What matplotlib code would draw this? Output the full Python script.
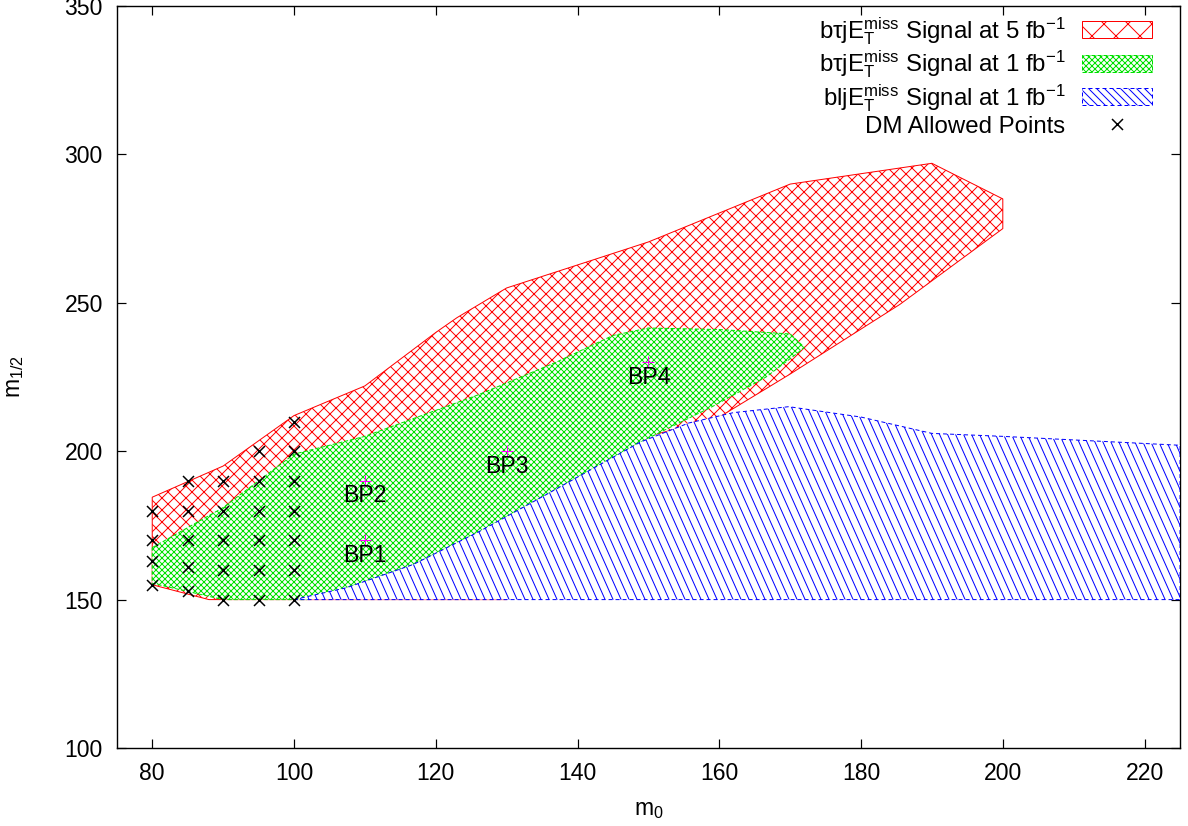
import numpy as np
import matplotlib
matplotlib.use("Agg")
import matplotlib.pyplot as plt
from matplotlib.patches import Polygon, Patch
from matplotlib.lines import Line2D
from matplotlib.collections import LineCollection
from matplotlib.transforms import IdentityTransform

plt.rcParams['font.family'] = ['Liberation Sans', 'DejaVu Sans']
plt.rcParams['mathtext.fontset'] = 'custom'
plt.rcParams['mathtext.rm'] = 'Liberation Sans'
plt.rcParams['mathtext.it'] = 'Liberation Sans'
plt.rcParams['mathtext.default'] = 'regular'
plt.rcParams['hatch.linewidth'] = 1.0

# ---------------- data ----------------
# btau j ET miss, 5 fb^-1 region (m0, m1/2)
red_m0 = [80, 88, 130, 150, 160, 170, 185.5, 200, 200, 190, 170, 150, 130, 123, 120, 110, 100, 90, 80]
red_m12 = [155, 150, 150, 205, 211.5, 226, 249.5, 275, 285, 297, 290, 270.5, 255, 245, 240, 222, 212, 195, 184.5]

# btau j ET miss, 1 fb^-1 region
green_m0 = [80, 90, 100, 110, 118, 126, 137, 145, 150, 160, 170, 172, 171, 166.6, 159, 154.3,
            148.8, 135.6, 126.2, 116.8, 107.4, 101.8, 90, 80]
green_m12 = [167.5, 181, 199, 205, 212, 219, 230, 239, 241.5, 241, 239.5, 235, 233, 225, 215, 209.5,
             203, 185.4, 173, 161.8, 154, 150, 150, 155.5]

# b l j ET miss, 1 fb^-1 region
blue_m0 = [100, 107.4, 116.8, 126.2, 135.6, 148.8, 155.7, 162, 169.8, 180, 190, 200, 225, 225]
blue_m12 = [150, 154, 161.8, 173, 185.4, 203, 209.5, 213, 215, 211.5, 206, 205, 202, 150]

# DM allowed points
dm_m0 = [80, 80, 80, 80,
         85, 85, 85, 85, 85,
         90, 90, 90, 90, 90,
         95, 95, 95, 95, 95, 95,
         100, 100, 100, 100, 100, 100, 100]
dm_m12 = [155, 163, 170, 180,
          153, 161, 170, 180, 190,
          150, 160, 170, 180, 190,
          150, 160, 170, 180, 190, 200,
          150, 160, 170, 180, 190, 200, 210]

# benchmark points
bp_names = ['BP1', 'BP2', 'BP3', 'BP4']
bp_m0 = [110, 110, 130, 150]
bp_m12 = [170, 190, 200, 230]

xticks = [80, 100, 120, 140, 160, 180, 200, 220]
yticks = [100, 150, 200, 250, 300, 350]

labels = ['bτjE$_T^{miss}$ Signal at 5 fb$^{-1}$',
          'bτjE$_T^{miss}$ Signal at 1 fb$^{-1}$',
          'bljE$_T^{miss}$ Signal at 1 fb$^{-1}$',
          'DM Allowed Points']

RED = '#ff0000'
GREEN = '#00e000'
BLUE = '#0000ff'

# ---------------- figure ----------------
DPI = 72
fig = plt.figure(figsize=(1188 / DPI, 826 / DPI), dpi=DPI)
ax = fig.add_axes([116.8 / 1188, 78 / 826, (1180 - 116.8) / 1188, (748 - 6) / 826])
ax.set_xlim(75, 225)
ax.set_ylim(100, 350)

red_poly = Polygon(np.column_stack([red_m0, red_m12]), closed=True, facecolor='white',
                   edgecolor=RED, hatch='xx', linewidth=1.0, zorder=1)
ax.add_patch(red_poly)

green_poly = Polygon(np.column_stack([green_m0, green_m12]), closed=True, facecolor='white',
                     edgecolor=GREEN, hatch='xxxx', linewidth=1.0, linestyle=(0, (4, 2)), zorder=2)
ax.add_patch(green_poly)

blue_poly = Polygon(np.column_stack([blue_m0, blue_m12]), closed=True, facecolor='white',
                    edgecolor=BLUE, linewidth=1.0, linestyle=(0, (4, 3)), zorder=3)
ax.add_patch(blue_poly)

# steep "\" hatch lines for the blue region, generated in display space and clipped
fig.canvas.draw()
disp = ax.transData.transform(np.column_stack([blue_m0, blue_m12]))
xmn, ymn = disp.min(axis=0)
xmx, ymx = disp.max(axis=0)
ang = np.deg2rad(66)
run = (ymx - ymn + 4) / np.tan(ang)
segs = []
for x0 in np.arange(xmn - run - 8, xmx + 8, 8.0):
    segs.append([(x0, ymx + 2), (x0 + run, ymn - 2)])
lc = LineCollection(segs, colors=BLUE, linewidths=1.0, transform=IdentityTransform(), zorder=3.1)
lc.set_clip_path(blue_poly)
ax.add_collection(lc)

# DM allowed points
ax.plot(dm_m0, dm_m12, linestyle='none', marker='x', color='black', markersize=11,
        markeredgewidth=1.5, zorder=5)

# benchmark points
ax.plot(bp_m0, bp_m12, linestyle='none', marker='+', color='#ff00ff', markersize=12,
        markeredgewidth=1.0, zorder=6)
for n, x, y in zip(bp_names, bp_m0, bp_m12):
    ax.text(x, y - 5, n, ha='center', va='center', fontsize=23, color='black', zorder=7)

# axes styling
ax.set_xticks(xticks)
ax.set_yticks(yticks)
ax.tick_params(direction='in', length=9, width=1.2, labelsize=23, top=True, right=True, pad=14)
ax.tick_params(axis='y', pad=14)
for s in ax.spines.values():
    s.set_linewidth(1.4)

ax.set_xlabel('m$_0$', fontsize=23)
ax.set_ylabel('m$_{1/2}$', fontsize=23)
ax.xaxis.set_label_coords(0.5, -0.068)
ax.yaxis.set_label_coords(-0.085, 0.5)

# legend
handles = [Patch(facecolor='white', edgecolor=RED, hatch='x', linewidth=1.0),
           Patch(facecolor='white', edgecolor=GREEN, hatch='xxxx', linewidth=1.0, linestyle=(0, (4, 2))),
           Patch(facecolor='white', edgecolor=BLUE, hatch='\\\\\\', linewidth=1.0, linestyle=(0, (4, 3))),
           Line2D([], [], linestyle='none', marker='x', color='black', markersize=11, markeredgewidth=1.5)]
leg = ax.legend(handles, labels, loc='upper right', bbox_to_anchor=((1152 - 116.8) / 1063.2, 0.988),
                frameon=False, markerfirst=False, fontsize=24, handlelength=2.9, handleheight=0.7,
                handletextpad=0.7, labelspacing=0.08, borderpad=0.0, borderaxespad=0.0)
leg.set_zorder(10)

fig.savefig('out.png', dpi=DPI)
